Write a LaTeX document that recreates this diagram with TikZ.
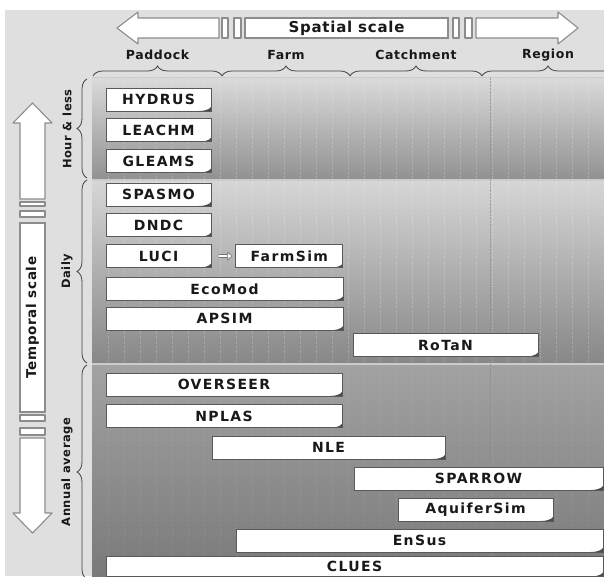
\documentclass[tikz,border=0pt]{standalone}
\usepackage{fontspec}
\newfontfamily\boxfamily[LetterSpace=10]{DejaVu Sans}
\newfontfamily\axisfamily[LetterSpace=5]{DejaVu Sans}
\usetikzlibrary{positioning,arrows.meta,decorations.pathreplacing}

\definecolor{bggray}{HTML}{DFDFDF}
\definecolor{sepgray}{HTML}{CBCBCB}
\definecolor{hourtop}{HTML}{DADADA}
\definecolor{hourbot}{HTML}{929292}
\definecolor{dailytop}{HTML}{D6D6D6}
\definecolor{dailybot}{HTML}{888888}
\definecolor{annualtop}{HTML}{A2A2A2}
\definecolor{annualbot}{HTML}{7A7A7A}

\tikzset{
  model/.style={draw=black!65, line width=0.8pt, fill=white, inner sep=0pt,
    minimum height=23pt, text=black!90,
    font=\boxfamily\bfseries\fontsize{14}{15}\selectfont,
    path picture={\fill[black!70] ([yshift=4pt]path picture bounding box.south east)
      .. controls +(-2pt,-3pt) and +(4pt,0pt) .. ([xshift=-12pt]path picture bounding box.south east)
      -- (path picture bounding box.south east) -- cycle;}},
  arrowpiece/.style={draw=black!45, line width=1.1pt, fill=white, line join=round},
  scalebrace/.style={decorate, decoration={brace, amplitude=10pt}, draw=black!75, line width=0.8pt},
  axislabel/.style={font=\axisfamily\bfseries\fontsize{12.5}{14}\selectfont, text=black!90},
  sidelabel/.style={font=\axisfamily\bfseries\fontsize{11.5}{13}\selectfont, text=black!90, rotate=90},
  gridline/.style={white, opacity=0.3, dotted, line width=0.5pt},
}

\begin{document}
\begin{tikzpicture}[x=1pt, y=-1pt]
  \useasboundingbox (0,0) rectangle (604,576);
  \fill[white] (0,0) rectangle (604,576);
  \fill[bggray] (5,10) rectangle (604,576);

  % time bands
  \fill[sepgray] (92,77) rectangle (604,576);
  \shade[top color=hourtop, bottom color=hourbot] (92,78) rectangle (604,178);
  \shade[top color=dailytop, bottom color=dailybot] (92,181) rectangle (604,362);
  \shade[top color=annualtop, bottom color=annualbot] (92,365) rectangle (604,576);
  \foreach \gx in {108,124,...,600}
    \draw[gridline] (\gx,78) -- (\gx,362);
  \foreach \gx in {108,124,...,600}
    \draw[gridline, opacity=0.12] (\gx,365) -- (\gx,576);
  \draw[black!45, densely dotted, opacity=0.7] (490,78) -- (490,576);

  % spatial scale arrow
  \node[draw=black!45, line width=1.1pt, fill=white, minimum width=203pt, minimum height=20pt,
    inner sep=0pt, font=\axisfamily\bfseries\fontsize{15}{17}\selectfont, text=black!90]
    (spatial) at (346.5,28) {Spatial scale};
  \draw[arrowpiece] (219,18) -- (138,18) -- (138,12) -- (117,28) -- (138,44) -- (138,38) -- (219,38) -- cycle;
  \draw[arrowpiece] (222,18) rectangle (228,38);
  \draw[arrowpiece] (234,18) rectangle (241,38);
  \draw[arrowpiece] (453,18) rectangle (459,38);
  \draw[arrowpiece] (465,18) rectangle (472,38);
  \draw[arrowpiece] (476,18) -- (558,18) -- (558,12) -- (578,28) -- (558,44) -- (558,38) -- (476,38) -- cycle;

  \node[axislabel] (paddock) at (157.5,55) {Paddock};
  \node[axislabel] (farm) at (286,55) {Farm};
  \node[axislabel] (catchment) at (416,55) {Catchment};
  \node[axislabel] (region) at (548,55) {Region};
  \draw[scalebrace] (93,76) -- (222,76);
  \draw[scalebrace] (222,76) -- (350,76);
  \draw[scalebrace] (350,76) -- (482,76);
  \draw[scalebrace] (482,76) -- (614,76);

  % temporal scale arrow
  \node[draw=black!45, line width=1.1pt, fill=white, minimum width=189pt, minimum height=25pt,
    inner sep=0pt, rotate=90, font=\axisfamily\bfseries\fontsize{13.5}{15}\selectfont, text=black!90]
    (temporal) at (32.5,317.5) {Temporal scale};
  \draw[arrowpiece] (20,199) -- (20,123) -- (13,123) -- (32.5,103) -- (52,123) -- (45,123) -- (45,199) -- cycle;
  \draw[arrowpiece] (20,202) rectangle (45,206);
  \draw[arrowpiece] (20,211) rectangle (45,217);
  \draw[arrowpiece] (20,415) rectangle (45,421);
  \draw[arrowpiece] (20,428) rectangle (45,435);
  \draw[arrowpiece] (20,438) -- (20,513) -- (13,513) -- (32.5,533) -- (52,513) -- (45,513) -- (45,438) -- cycle;

  \node[sidelabel] (hour) at (67,129) {Hour \& less};
  \node[sidelabel] (daily) at (67,271) {Daily};
  \node[sidelabel] (annual) at (67,472) {Annual average};
  \draw[scalebrace] (87,178) -- (87,79);
  \draw[scalebrace] (87,363) -- (87,180);
  \draw[scalebrace] (87,579) -- (87,365);

  % hour & less
  \node[model, minimum width=105pt] (hydrus) at (158.5,99.5) {HYDRUS};
  \node[model, minimum width=105pt, below=7pt of hydrus] (leachm) {LEACHM};
  \node[model, minimum width=105pt, below=7pt of leachm] (gleams) {GLEAMS};

  % daily
  \node[model, minimum width=105pt] (spasmo) at (158.5,194.5) {SPASMO};
  \node[model, minimum width=105pt, below=7pt of spasmo] (dndc) {DNDC};
  \node[model, minimum width=105pt, below=7pt of dndc] (luci) {LUCI};
  \node[model, minimum width=107pt, right=24pt of luci] (farmsim) {FarmSim};
  \node[model, minimum width=237pt, below=9pt of luci.south west, anchor=north west] (ecomod) {EcoMod};
  \node[model, minimum width=237pt, below=6pt of ecomod] (apsim) {APSIM};
  \node[model, minimum width=185pt] (rotan) at (445.5,345) {RoTaN};
  \draw[draw=black!55, line width=0.6pt, double=white, double distance=2.5pt,
    -{Triangle[length=5pt, width=9pt, fill=white]}, shorten <=8pt, shorten >=3pt] (luci) -- (farmsim);

  % annual average
  \node[model, minimum width=236pt] (overseer) at (224,384.5) {OVERSEER};
  \node[model, minimum width=236pt, below=8pt of overseer] (nplas) {NPLAS};
  \node[model, minimum width=233pt] (nle) at (328.5,447.5) {NLE};
  \node[model, minimum width=249pt] (sparrow) at (478.5,478.5) {SPARROW};
  \node[model, minimum width=155pt] (aquifersim) at (475.5,509.5) {AquiferSim};
  \node[model, minimum width=367pt] (ensus) at (419.5,540.5) {EnSus};
  \node[model, minimum width=497pt, minimum height=20pt] (clues) at (354.5,566.5) {CLUES};
\end{tikzpicture}
\end{document}
